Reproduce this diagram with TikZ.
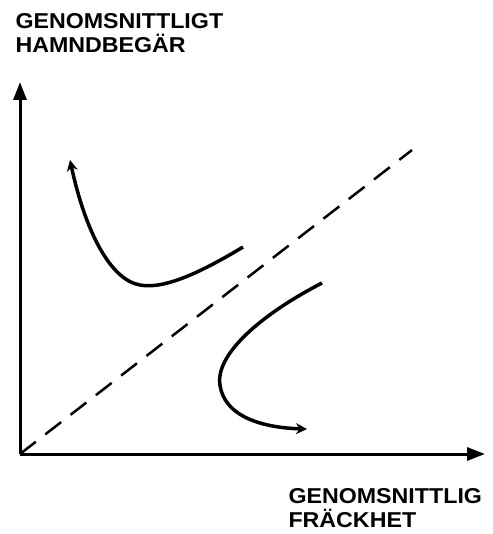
\documentclass[tikz,border=0pt]{standalone}
\usepackage{fontspec}
\setmainfont{Liberation Sans}[FakeStretch=1.08]
\usetikzlibrary{arrows.meta}
\begin{document}
\begin{tikzpicture}[x=1pt, y=-1pt, line width=3pt,
  axislabel/.style={anchor=north west, align=left, inner sep=0pt,
    font=\fontsize{21.5}{24}\selectfont\bfseries}]
  \useasboundingbox (0,0) rectangle (492,534);
  \coordinate (origin) at (20,454);
  \coordinate (ytip) at (20,82);
  \coordinate (xtip) at (485,454);
  \draw[-{Triangle[length=18pt,width=13pt]}] (origin) -- (ytip);
  \draw[-{Triangle[length=18pt,width=13pt]}] (origin) -- (xtip);
  \draw[dash pattern=on 20pt off 12pt, line width=2.5pt] (origin) -- (412,150);
  \draw[line width=3.5pt, -{Stealth[length=11pt,width=11pt]}]
    (243,247) .. controls (205,270) and (165,290) .. (140,285)
    .. controls (110,280) and (85,230) .. (70,160);
  \draw[line width=3.5pt, -{Stealth[length=11pt,width=11pt]}]
    (322,283) .. controls (260,315) and (215,355) .. (220,385)
    .. controls (225,420) and (270,428) .. (307,429);
  \node[axislabel] (ylabel) at (14,12) {GENOMSNITTLIGT\\HAMNDBEGÄR};
  \node[axislabel] (xlabel) at (287,487) {GENOMSNITTLIG\\FRÄCKHET};
\end{tikzpicture}
\end{document}
